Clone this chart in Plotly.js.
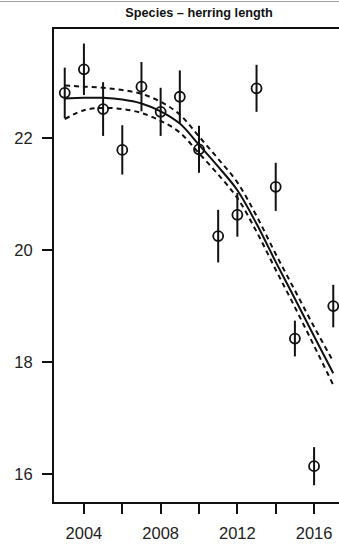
<!DOCTYPE html>
<html>
<head>
<meta charset="utf-8">
<script src="https://cdn.plot.ly/plotly-3.0.1.min.js"></script>
<style>
  html, body { margin: 0; padding: 0; background: #fff; overflow: hidden; width: 339px; height: 546px; }
  #wrap { position: relative; width: 339px; height: 546px; overflow: hidden; }
  #chart { position: absolute; left: 0; top: 0; }
  #rule { position: absolute; left: 0; top: 1px; width: 339px; height: 1px; background: #a0a0a0; }
</style>
</head>
<body>
<div id="wrap">
  <div id="chart"></div>
  <div id="rule"></div>
</div>
<script>
// Annual mean herring length with uncertainty
const years = [2003, 2004, 2005, 2006, 2007, 2008, 2009, 2010, 2011, 2012, 2013, 2014, 2015, 2016, 2017];
const meanLength = [22.81, 23.23, 22.52, 21.79, 22.92, 22.47, 22.74, 21.80, 20.25, 20.63, 22.89, 21.13, 18.42, 16.14, 19.00];
const errLength = [0.45, 0.46, 0.48, 0.44, 0.44, 0.43, 0.47, 0.42, 0.47, 0.39, 0.42, 0.43, 0.32, 0.34, 0.38];

// Smoothed trend and its confidence band
const trendFit = [22.71, 22.72, 22.72, 22.69, 22.62, 22.48, 22.26, 21.88, 21.49, 21.07, 20.47, 19.79, 19.13, 18.46, 17.80];
const trendUpper = [22.94, 22.92, 22.90, 22.86, 22.79, 22.65, 22.42, 22.03, 21.63, 21.21, 20.61, 19.93, 19.28, 18.63, 18.01];
const trendLower = [22.34, 22.50, 22.54, 22.52, 22.45, 22.31, 22.10, 21.73, 21.35, 20.93, 20.33, 19.65, 18.98, 18.29, 17.59];

const xTicks = [2004, 2006, 2008, 2010, 2012, 2014, 2016];
const xTickText = ['2004', '', '2008', '', '2012', '', '2016'];
const yTicks = [16, 18, 20, 22];

const FONT = '"Liberation Sans", Arial, "DejaVu Sans", sans-serif';

const traces = [
  {
    x: years, y: trendUpper, type: 'scatter', mode: 'lines',
    line: { color: '#111', width: 2, dash: '5px,4px', shape: 'spline', smoothing: 1 },
    hoverinfo: 'skip', showlegend: false
  },
  {
    x: years, y: trendLower, type: 'scatter', mode: 'lines',
    line: { color: '#111', width: 2, dash: '5px,4px', shape: 'spline', smoothing: 1 },
    hoverinfo: 'skip', showlegend: false
  },
  {
    x: years, y: trendFit, type: 'scatter', mode: 'lines',
    line: { color: '#111', width: 2, shape: 'spline', smoothing: 1 },
    hoverinfo: 'skip', showlegend: false
  },
  {
    x: years, y: meanLength, type: 'scatter', mode: 'markers',
    marker: { symbol: 'circle-open', size: 10, color: '#111', line: { width: 1.8, color: '#111' } },
    error_y: { type: 'data', array: errLength, visible: true, width: 0, thickness: 2, color: '#111' },
    showlegend: false
  }
];

const layout = {
  width: 350,
  height: 546,
  margin: { l: 54, r: 6, t: 29, b: 44 },
  paper_bgcolor: '#fff',
  plot_bgcolor: '#fff',
  font: { family: FONT, color: '#222', size: 16.5 },
  title: {
    text: 'Species \u2013 herring length',
    font: { family: FONT, size: 12.7, color: '#111', weight: 'bold' },
    xref: 'paper', x: 0.5, xanchor: 'center',
    yref: 'container', y: 1 - 13 / 546, yanchor: 'middle'
  },
  xaxis: {
    range: [2002.44, 2017.56],
    tickmode: 'array', tickvals: xTicks, ticktext: xTickText,
    ticks: 'outside', ticklen: 10, tickwidth: 2, tickcolor: '#111',
    ticklabelstandoff: 5,
    showline: true, linewidth: 2, linecolor: '#111', mirror: true,
    showgrid: false, zeroline: false,
    tickfont: { family: FONT, size: 16.5, color: '#222' }
  },
  yaxis: {
    range: [15.5, 23.95],
    tickmode: 'array', tickvals: yTicks,
    ticks: 'outside', ticklen: 10, tickwidth: 2, tickcolor: '#111',
    ticklabelstandoff: 6,
    showline: true, linewidth: 2, linecolor: '#111', mirror: true,
    showgrid: false, zeroline: false,
    tickfont: { family: FONT, size: 16.5, color: '#222' }
  }
};

Plotly.newPlot('chart', traces, layout, { displayModeBar: false, staticPlot: true });
</script>
</body>
</html>
